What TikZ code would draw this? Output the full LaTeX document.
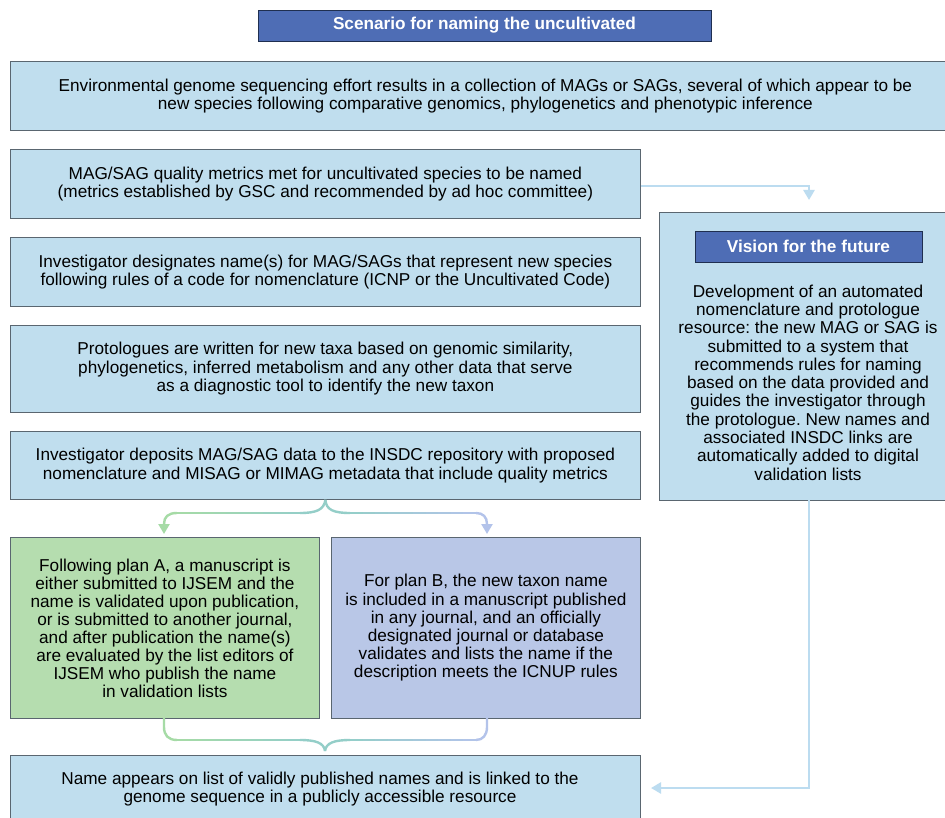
\documentclass[tikz,border=0pt]{standalone}
\usepackage{fontspec}
\setmainfont{Liberation Sans}
\usetikzlibrary{arrows.meta}
\frenchspacing
\definecolor{lb}{HTML}{C0DEEE}
\definecolor{frame}{HTML}{5A6670}
\definecolor{pgreen}{HTML}{B5DDAF}
\definecolor{plav}{HTML}{B9C7E7}
\definecolor{tblue}{HTML}{4E6DB5}
\definecolor{tframe}{HTML}{1F2F50}
\definecolor{arrblue}{HTML}{BCDCF0}
\definecolor{bg}{HTML}{A6DBA6}
\definecolor{bt}{HTML}{94CEC8}
\definecolor{bl}{HTML}{B3C3EA}
\tikzset{
  box/.style={draw=frame, fill=lb, line width=0.8pt, align=center, inner sep=0pt,
    font=\fontsize{17.2}{18.4}\selectfont, anchor=north west},
  plain/.style={align=center, inner sep=0pt, font=\fontsize{17.2}{18.3}\selectfont},
  titlebox/.style={draw=tframe, fill=tblue, line width=0.8pt, text=white, inner sep=0pt,
    font=\fontsize{17.2}{18}\selectfont\bfseries},
  conn/.style={draw=arrblue, line width=2.6pt, -{Triangle[width=11pt,length=10pt]}},
  brace/.style={line width=2.4pt},
}
\begin{document}
\begin{tikzpicture}[x=1pt,y=-1pt]
\clip (0,0) rectangle (945,818);
\fill[white] (0,0) rectangle (945,818);

\node[titlebox, minimum width=453, minimum height=31] (title) at (484.5,25.5) {Scenario for naming the uncultivated};

\node[box, minimum width=950, minimum height=69] (b1) at (10,61)
  {Environmental genome sequencing effort results in a collection of MAGs or SAGs, several of which appear to be\\
   new species following comparative genomics, phylogenetics and phenotypic inference};
\node[box, minimum width=630, minimum height=69] (b2) at (10,149)
  {MAG/SAG quality metrics met for uncultivated species to be named\\
   (metrics established by GSC and recommended by ad hoc committee)};
\node[box, minimum width=630, minimum height=69] (b3) at (10,237)
  {Investigator designates name(s) for MAG/SAGs that represent new species\\
   following rules of a code for nomenclature (ICNP or the Uncultivated Code)};
\node[box, minimum width=630, minimum height=87] (b4) at (10,325)
  {Protologues are written for new taxa based on genomic similarity,\\
   phylogenetics, inferred metabolism and any other data that serve\\
   as a diagnostic tool to identify the new taxon};
\node[box, minimum width=630, minimum height=68] (b5) at (10,431)
  {Investigator deposits MAG/SAG data to the INSDC repository with proposed\\
   nomenclature and MISAG or MIMAG metadata that include quality metrics};
\node[box, fill=pgreen, minimum width=309, minimum height=181, font=\fontsize{17.2}{18}\selectfont] (pa) at (10,537)
  {Following plan A, a manuscript is\\
   either submitted to IJSEM and the\\
   name is validated upon publication,\\
   or is submitted to another journal,\\
   and after publication the name(s)\\
   are evaluated by the list editors of\\
   IJSEM who publish the name\\
   in validation lists};
\node[box, fill=plav, minimum width=309, minimum height=181, font=\fontsize{17.2}{18.2}\selectfont] (pb) at (331,537)
  {For plan B, the new taxon name\\
   is included in a manuscript published\\
   in any journal, and an officially\\
   designated journal or database\\
   validates and lists the name if the\\
   description meets the ICNUP rules};
\node[box, minimum width=630, minimum height=68] (bot) at (10,755) {};
\node[plain, font=\fontsize{17.2}{18.8}\selectfont] (bottext) at (320,789)
  {Name appears on list of validly published names and is linked to the\\
   genome sequence in a publicly accessible resource};

\node[box, minimum width=298, minimum height=288] (vis) at (659,212) {};
\node[titlebox, minimum width=227, minimum height=31] (vtitle) at (808.5,246.5) {Vision for the future};
\node[plain] (vtext) at (808,382.5)
  {Development of an automated\\
   nomenclature and protologue\\
   resource: the new MAG or SAG is\\
   submitted to a system that\\
   recommends rules for naming\\
   based on the data provided and\\
   guides the investigator through\\
   the protologue. New names and\\
   associated INSDC links are\\
   automatically added to digital\\
   validation lists};

% connectors
\coordinate (q2vEnd) at (809,200);
\draw[conn] ([yshift=-2pt]b2.east) -| (q2vEnd);
\coordinate (v2bEnd) at (651,788);
\draw[conn] (809,500) |- (v2bEnd);

% top brace (split, gradient)
\coordinate (tip) at (b5.south);
\draw[brace, bt] (tip) .. controls (324,510) and (316,513) .. (300,513);
\draw[brace, bt] (tip) .. controls (326,510) and (334,513) .. (350,513);
\foreach \i in {0,...,9}{
  \pgfmathsetmacro\xa{300-12.3*\i}
  \pgfmathsetmacro\xb{300-12.3*(\i+1)}
  \pgfmathtruncatemacro\p{10*\i+5}
  \draw[brace, bg!\p!bt] (\xa,513) -- (\xb,513);
  \pgfmathsetmacro\xc{350+12.6*\i}
  \pgfmathsetmacro\xd{350+12.6*(\i+1)}
  \draw[brace, bl!\p!bt] (\xc,513) -- (\xd,513);
}
\coordinate (paTop) at (164,534);
\coordinate (pbTop) at (487,534);
\draw[brace, bg, -{Triangle[width=11pt,length=10pt]}] (177,513) .. controls (168,513) and (164,517) .. (164,524) -- (paTop);
\draw[brace, bl, -{Triangle[width=11pt,length=10pt]}] (476,513) .. controls (483,513) and (487,517) .. (487,524) -- (pbTop);

% bottom brace
\coordinate (btip) at (325,751);
\draw[brace, bg] (164,718) -- (164,727) .. controls (164,735) and (168,740) .. (177,740);
\draw[brace, bl] (487,718) -- (487,727) .. controls (487,735) and (483,740) .. (476,740);
\foreach \i in {0,...,9}{
  \pgfmathsetmacro\xa{300-12.3*\i}
  \pgfmathsetmacro\xb{300-12.3*(\i+1)}
  \pgfmathtruncatemacro\p{10*\i+5}
  \draw[brace, bg!\p!bt] (\xa,740) -- (\xb,740);
  \pgfmathsetmacro\xc{350+12.6*\i}
  \pgfmathsetmacro\xd{350+12.6*(\i+1)}
  \draw[brace, bl!\p!bt] (\xc,740) -- (\xd,740);
}
\draw[brace, bt] (300,740) .. controls (316,740) and (324,743) .. (btip);
\draw[brace, bt] (350,740) .. controls (334,740) and (326,743) .. (btip);
\end{tikzpicture}
\end{document}
